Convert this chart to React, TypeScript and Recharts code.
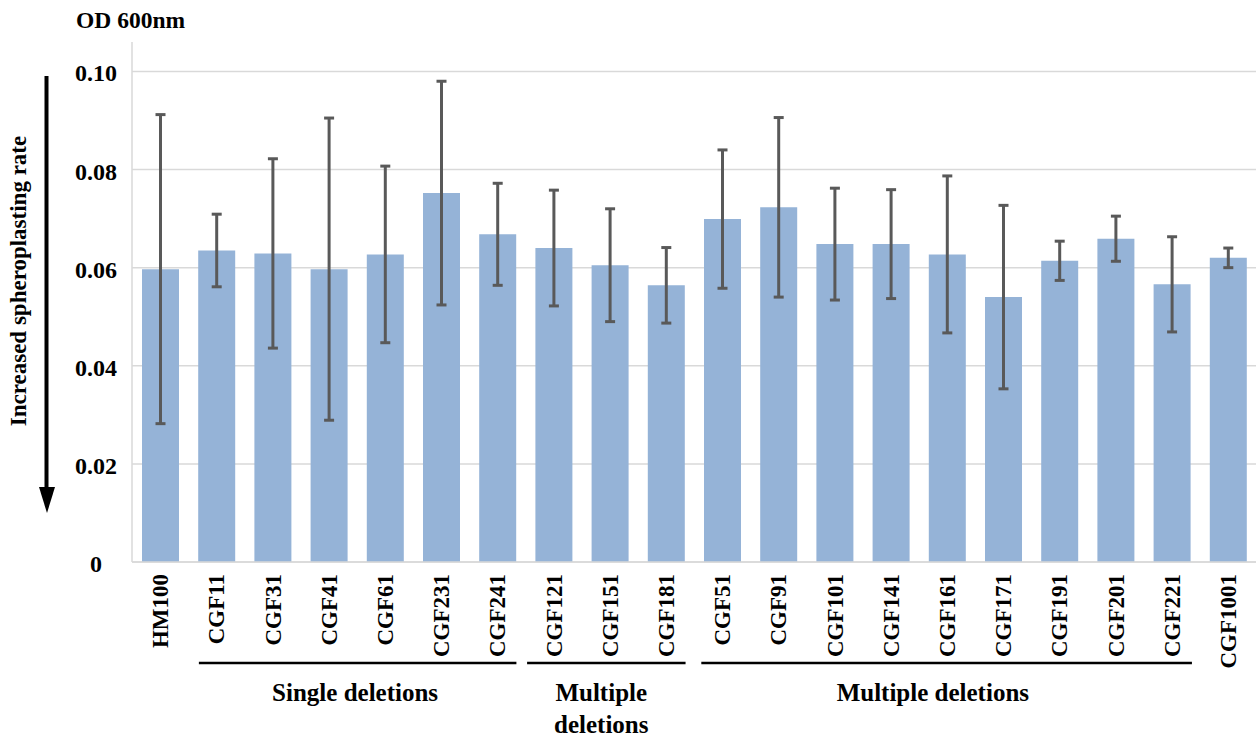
import React from "react";
import { BarChart, Bar, XAxis, YAxis, CartesianGrid, ErrorBar } from "recharts";

const strains = ["HM100","CGF11","CGF31","CGF41","CGF61","CGF231","CGF241","CGF121","CGF151","CGF181","CGF51","CGF91","CGF101","CGF141","CGF161","CGF171","CGF191","CGF201","CGF221","CGF1001"];
const od600 = [0.0597,0.0635,0.0629,0.0597,0.0627,0.0752,0.0668,0.0640,0.0605,0.0564,0.0699,0.0723,0.0648,0.0648,0.0627,0.0540,0.0614,0.0659,0.0566,0.0620];
const sd = [0.0315,0.0074,0.0193,0.0308,0.0180,0.0228,0.0104,0.0118,0.0115,0.0077,0.0141,0.0183,0.0114,0.0111,0.0160,0.0187,0.0040,0.0046,0.0097,0.0020];
const yTicks = [0, 0.02, 0.04, 0.06, 0.08, 0.1];
const yTickLabels = ["0", "0.02", "0.04", "0.06", "0.08", "0.10"];

const groupLabels = [["Single deletions"], ["Multiple", "deletions"], ["Multiple deletions"]];
const groupStart = [1.19, 7.03, 10.13];
const groupEnd = [6.84, 9.85, 18.86];
const groupLabelPos = [3.97, 8.35, 14.25];

const data = strains.map((s, i) => ({ name: s, value: od600[i], err: sd[i] }));

const W = 1257;
const H = 740;
const PLOT_LEFT = 132;
const PLOT_RIGHT = 1256;
const PLOT_BOTTOM = 562;
const PLOT_TOP = 42;
const Y_MAX = 0.106;
const BAND = (PLOT_RIGHT - PLOT_LEFT) / strains.length;
const FONT = "'Liberation Serif', 'Times New Roman', serif";

const YTick = (props: any) => {
  const { y, payload } = props;
  const idx = yTicks.indexOf(payload.value);
  return (
    <text x={96} y={y} dy={10} textAnchor="middle" fontFamily={FONT} fontWeight="bold" fontSize={24} fill="#000">
      {idx >= 0 ? yTickLabels[idx] : payload.value}
    </text>
  );
};

const XTick = (props: any) => {
  const { x, y, payload } = props;
  const ty = y + 4;
  return (
    <text x={x} y={ty} transform={`rotate(-90 ${x} ${ty})`} textAnchor="end" dy="0.35em" fontFamily={FONT} fontWeight="bold" fontSize={23} fill="#000">
      {payload.value}
    </text>
  );
};

const gridRows = (args: any) => {
  const yAxis = args && args.yAxis;
  if (yAxis && typeof yAxis.scale === "function") {
    return yTicks.map((t) => yAxis.scale(t));
  }
  return yTicks.map((t) => PLOT_BOTTOM - (t / Y_MAX) * (PLOT_BOTTOM - PLOT_TOP));
};

export default function App() {
  const px = (pos: number) => PLOT_LEFT + BAND * pos;
  return (
    <div style={{ position: "fixed", left: 0, top: 0, width: W, height: H, background: "#fff" }}>
      <BarChart width={W} height={H} data={data} margin={{ top: PLOT_TOP, right: W - PLOT_RIGHT, bottom: 0, left: 0 }} barSize={37}>
        <CartesianGrid vertical={false} stroke="#d9d9d9" strokeWidth={1.5} horizontalCoordinatesGenerator={gridRows} />
        <XAxis dataKey="name" height={H - PLOT_BOTTOM} interval={0} tickLine={false} axisLine={{ stroke: "#d9d9d9", strokeWidth: 1.5 }} tick={<XTick />} />
        <YAxis width={PLOT_LEFT} domain={[0, Y_MAX]} ticks={yTicks} tickLine={false} axisLine={{ stroke: "#d9d9d9", strokeWidth: 1.5 }} tick={<YTick />} />
        <Bar dataKey="value" fill="#95b3d7" isAnimationActive={false}>
          <ErrorBar dataKey="err" width={5} stroke="#595959" strokeWidth={3} />
        </Bar>
      </BarChart>
      <svg width={W} height={H} style={{ position: "absolute", left: 0, top: 0, pointerEvents: "none" }}>
        <text x={76} y={28} fontFamily={FONT} fontWeight="bold" fontSize={23.5} fill="#000">OD 600nm</text>
        <text x={18} y={281} transform="rotate(-90 18 281)" textAnchor="middle" dy="0.35em" fontFamily={FONT} fontWeight="bold" fontSize={23} fill="#000">Increased spheroplasting rate</text>
        <line x1={46.5} y1={76} x2={46.5} y2={492} stroke="#000" strokeWidth={4} />
        <polygon points="39,487 55,487 47,513" fill="#000" />
        {groupLabels.map((lines, g) => (
          <g key={g}>
            <line x1={px(groupStart[g])} x2={px(groupEnd[g])} y1={663} y2={663} stroke="#000" strokeWidth={2.5} />
            {lines.map((t, k) => (
              <text key={k} x={px(groupLabelPos[g])} y={701 + k * 32} textAnchor="middle" fontFamily={FONT} fontWeight="bold" fontSize={25} fill="#000">{t}</text>
            ))}
          </g>
        ))}
      </svg>
    </div>
  );
}
